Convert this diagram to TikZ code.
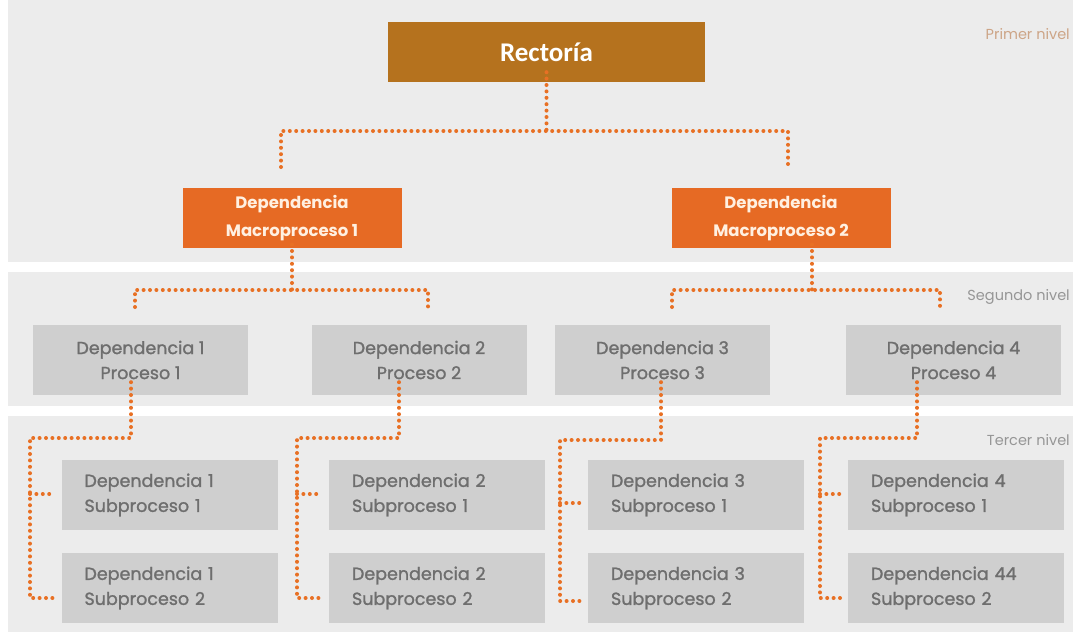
\documentclass[tikz,border=0pt]{standalone}
\usepackage{fontspec}
\setmainfont{Poppins}
\newfontfamily\medfont{Poppins}[FakeBold=1.3]
\newfontfamily\calib{Carlito}
\definecolor{bandgray}{RGB}{236,236,236}
\definecolor{boxgray}{RGB}{207,207,207}
\definecolor{txtgray}{RGB}{110,110,110}
\definecolor{rectbrown}{RGB}{181,114,30}
\definecolor{macroorange}{RGB}{230,106,36}
\definecolor{dotorange}{RGB}{232,112,36}
\definecolor{lbltan}{RGB}{205,165,135}
\definecolor{lblgray}{RGB}{150,150,150}
\definecolor{creamtxt}{RGB}{255,240,225}
\tikzset{
  band/.style={fill=bandgray, draw=none},
  rectbox/.style={fill=rectbrown, draw=none, minimum width=317pt, minimum height=60pt, text=white, font=\calib\bfseries\fontsize{27}{30}\selectfont},
  macrobox/.style={fill=macroorange, draw=none, minimum width=219pt, minimum height=60pt, text=creamtxt, align=center, font=\bfseries\fontsize{16.5}{28}\selectfont},
  procbox/.style={fill=boxgray, draw=none, minimum width=215pt, minimum height=70pt, text=txtgray, align=center, font=\medfont\fontsize{17.5}{25}\selectfont},
  subbox/.style={fill=boxgray, draw=none, minimum width=216pt, minimum height=70pt, text=txtgray, align=left, text width=170pt, font=\medfont\fontsize{17.5}{25}\selectfont},
  dotline/.style={draw=dotorange, line width=4pt, line cap=round, dash pattern=on 0pt off 6.4pt},
  lvl/.style={anchor=east, font=\fontsize{14.5}{16}\selectfont, inner sep=0pt}
}
\begin{document}
\begin{tikzpicture}[x=1pt,y=-1pt]
\useasboundingbox (0,0) rectangle (1073,635);
\fill[white] (0,0) rectangle (1073,635);
% bands
\path[band] (8,0) rectangle (1073,262);
\path[band] (8,272) rectangle (1073,406);
\path[band] (8,416) rectangle (1073,632);
% level labels
\node[lvl, text=lbltan] (l1) at (1070,34) {Primer nivel};
\node[lvl, text=lblgray] (l2) at (1070,297) {Segundo nivel};
\node[lvl, text=lblgray] (l3) at (1070,440) {Tercer nivel};
% level 1
\node[rectbox] (rect) at (546.5,52) {Rectoría};
\node[macrobox] (m1) at (292,218) {Dependencia\\Macroproceso 1};
\node[macrobox] (m2) at (781,218) {Dependencia\\Macroproceso 2};
% level 2
\node[procbox] (p1) at (140.5,360) {Dependencia 1\\Proceso 1};
\node[procbox] (p2) at (419,360) {Dependencia 2\\Proceso 2};
\node[procbox] (p3) at (662.5,360) {Dependencia 3\\Proceso 3};
\node[procbox] (p4) at (953.5,360) {Dependencia 4\\Proceso 4};
% level 3
\node[subbox] (s11) at (169.5,495) {Dependencia 1\\Subproceso 1};
\node[subbox] (s12) at (169.5,588) {Dependencia 1\\Subproceso 2};
\node[subbox] (s21) at (437,495) {Dependencia 2\\Subproceso 1};
\node[subbox] (s22) at (437,588) {Dependencia 2\\Subproceso 2};
\node[subbox] (s31) at (696,495) {Dependencia 3\\Subproceso 1};
\node[subbox] (s32) at (696,588) {Dependencia 3\\Subproceso 2};
\node[subbox] (s41) at (956,495) {Dependencia 4\\Subproceso 1};
\node[subbox] (s42) at (956,588) {Dependencia 44\\Subproceso 2};
% connectors level 0 -> 1
\draw[dotline] ([yshift=10pt]rect.south) -- (rect.south |- 0,131);
\draw[dotline] (281,167) -- (281,131) -- (788,131) -- (788,167);
% level 1 -> 2
\draw[dotline] ([yshift=10pt]m1.south) -- (m1.south |- 0,290);
\draw[dotline] (135,307) -- (135,290) -- (428,290) -- (428,307);
\draw[dotline] ([xshift=31pt,yshift=10pt]m2.south) -- ([xshift=31pt]m2.south |- 0,290);
\draw[dotline] (672,307) -- (672,290) -- (940,290) -- (940,307);
% level 2 -> 3
\draw[dotline] ([xshift=-9.5pt,yshift=13pt]p1.south) -- (131,438) -- (30,438) -- (30,598) -- (55,598);
\draw[dotline] (30,494) -- (55,494);
\draw[dotline] ([xshift=-20pt,yshift=13pt]p2.south) -- (399,438) -- (297,438) -- (297,598) -- (322,598);
\draw[dotline] (297,494) -- (322,494);
\draw[dotline] ([xshift=-1.5pt,yshift=13pt]p3.south) -- (661,440) -- (560,440) -- (560,601) -- (582,601);
\draw[dotline] (560,503) -- (582,503);
\draw[dotline] ([xshift=-36.5pt,yshift=13pt]p4.south) -- (917,438) -- (820,438) -- (820,598) -- (843,598);
\draw[dotline] (820,494) -- (843,494);
\end{tikzpicture}
\end{document}
